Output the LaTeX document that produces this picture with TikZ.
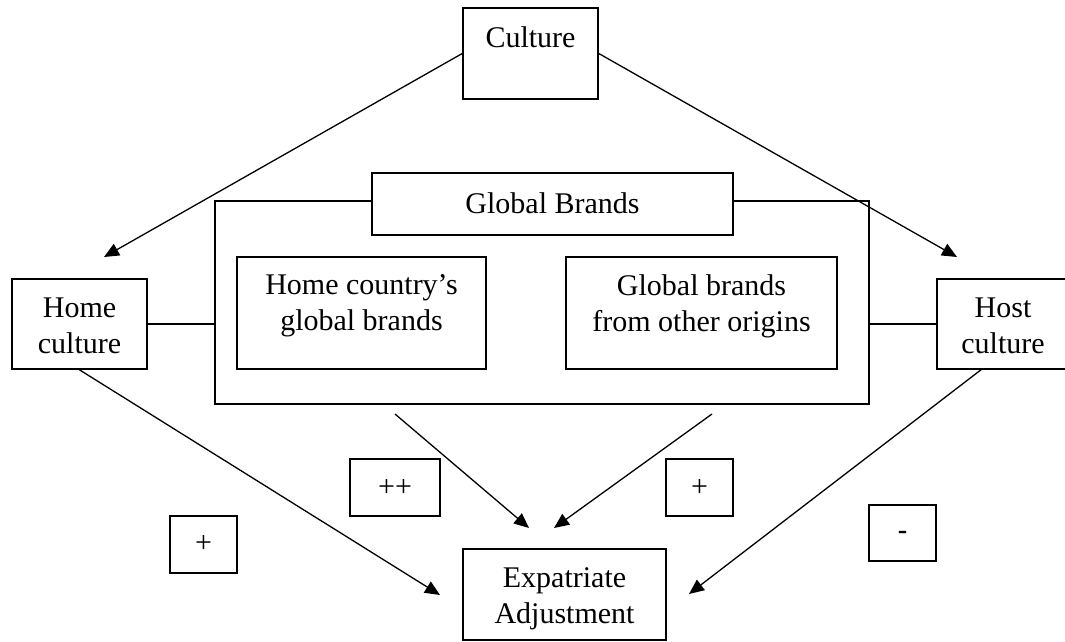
\documentclass[tikz,border=0pt]{standalone}
\usepackage{fontspec}
\setmainfont{Liberation Serif}
\newfontfamily\sansfont{Liberation Sans}
\usetikzlibrary{arrows.meta}
\begin{document}
\begin{tikzpicture}[x=1pt,y=-1pt,
  box/.style={draw=black, line width=1.6pt, fill=white, inner sep=0pt},
  txt/.style={inner sep=0pt, align=center, font=\fontsize{30}{36}\selectfont},
  conn/.style={draw=black, line width=1.4pt},
  arr/.style={draw=black, line width=1.3pt, -{Triangle[length=15pt,width=13pt]}}]
\useasboundingbox (0,0) rectangle (1065,641);
% container and boxes
\node[box, minimum width=654pt, minimum height=203pt, fill=none] (container) at (542,302.5) {};
\node[box, minimum width=361pt, minimum height=62pt] (gb) at (552.5,204) {};
\node[txt, anchor=base] (gbT) at (552.5,213) {Global Brands};
\node[box, minimum width=135pt, minimum height=91pt] (culture) at (530.5,53.5) {};
\node[txt, anchor=base] (cultureT) at (530.5,47) {Culture};
\node[box, minimum width=249pt, minimum height=112pt] (homegb) at (361.5,313) {};
\node[txt] (homegbT) at (361.5,306) {Home country’s\\global brands};
\node[box, minimum width=271pt, minimum height=112pt] (othergb) at (701.5,313) {};
\node[txt] (othergbT) at (701.5,306) {Global brands\\from other origins};
\node[box, minimum width=135pt, minimum height=90pt] (home) at (79.5,324) {};
\node[txt] (homeT) at (79.5,326) {Home\\culture};
\node[box, minimum width=132pt, minimum height=90pt] (host) at (1003,324) {};
\node[txt] (hostT) at (1003,326) {Host\\culture};
\node[box, minimum width=203pt, minimum height=91pt] (expat) at (564.5,594.5) {};
\node[txt] (expatT) at (564.5,599) {Expatriate\\Adjustment};
% sign boxes
\node[box, minimum width=90pt, minimum height=57pt] (pp) at (395,487.5) {};
\node[txt] (ppT) at (395,488) {++};
\node[box, minimum width=67pt, minimum height=57pt] (pm) at (699.5,487.5) {};
\node[txt] (pmT) at (699.5,488) {+};
\node[box, minimum width=67pt, minimum height=57pt] (pl) at (203.5,544.5) {};
\node[txt] (plT) at (203.5,544) {+};
\node[box, minimum width=67pt, minimum height=56pt] (mn) at (902.5,533) {};
\node[txt, font=\sansfont\fontsize{30}{36}\selectfont] (mnT) at (902.5,536) {-};
% coordinates
\coordinate (homeTip) at (104,257);
\coordinate (hostTip) at (957,257);
\coordinate (homeExp) at (440,595);
\coordinate (hostExp) at (689,594);
\coordinate (hostOut) at (982,369);
\coordinate (gbL) at (395,414);
\coordinate (gbR) at (712,414);
\coordinate (gbLTip) at (529,528);
\coordinate (gbRTip) at (554,528);
% connectors
\draw[conn] (home.east) -- (home.east -| container.west);
\draw[conn] (container.east |- host.west) -- (host.west);
\draw[arr] (culture.west) -- (homeTip);
\draw[arr] (culture.east) -- (hostTip);
\draw[arr] (home.south) -- (homeExp);
\draw[arr] (hostOut) -- (hostExp);
\draw[arr] (gbL) -- (gbLTip);
\draw[arr] (gbR) -- (gbRTip);
\end{tikzpicture}
\end{document}
